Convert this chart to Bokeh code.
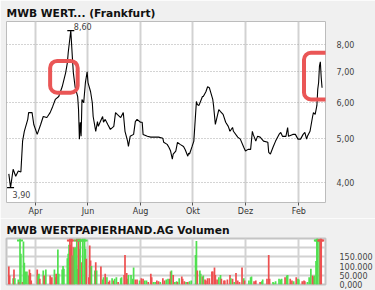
import numpy as np
import pandas as pd
from bokeh.plotting import figure
from bokeh.models import Range1d, FixedTicker, BoxAnnotation, ColumnDataSource, Label
from bokeh.layouts import column
from bokeh.embed import file_html
from bokeh.resources import INLINE

# --- closing prices (EUR) ---
price_dates = [
    "2006-03-01", "2006-03-03", "2006-03-06", "2006-03-09", "2006-03-12", "2006-03-15",
    "2006-03-17", "2006-03-19", "2006-03-23", "2006-03-24", "2006-03-28", "2006-03-30",
    "2006-04-03", "2006-04-07", "2006-04-10", "2006-04-14", "2006-04-15", "2006-04-18",
    "2006-04-21", "2006-04-24", "2006-04-28", "2006-05-02", "2006-05-06", "2006-05-08",
    "2006-05-09", "2006-05-12", "2006-05-14", "2006-05-15", "2006-05-17", "2006-05-20",
    "2006-05-21", "2006-05-22", "2006-05-23", "2006-05-24", "2006-05-25", "2006-05-27",
    "2006-05-29", "2006-05-31", "2006-06-01", "2006-06-04", "2006-06-06", "2006-06-07",
    "2006-06-10", "2006-06-12", "2006-06-13", "2006-06-15", "2006-06-18", "2006-06-19",
    "2006-06-21", "2006-06-24", "2006-06-27", "2006-07-01", "2006-07-03", "2006-07-05",
    "2006-07-09", "2006-07-12", "2006-07-14", "2006-07-17", "2006-07-18", "2006-07-20",
    "2006-07-24", "2006-07-26", "2006-07-28", "2006-08-01", "2006-08-03", "2006-08-04",
    "2006-08-09", "2006-08-13", "2006-08-16", "2006-08-22", "2006-08-27", "2006-08-28",
    "2006-09-01", "2006-09-03", "2006-09-05", "2006-09-07", "2006-09-08", "2006-09-11",
    "2006-09-13", "2006-09-16", "2006-09-20", "2006-09-22", "2006-09-25", "2006-09-26",
    "2006-09-27", "2006-09-30", "2006-10-02", "2006-10-04", "2006-10-05", "2006-10-06",
    "2006-10-08", "2006-10-12", "2006-10-13", "2006-10-16", "2006-10-18", "2006-10-20",
    "2006-10-24", "2006-10-25", "2006-10-27", "2006-10-31", "2006-11-02", "2006-11-05",
    "2006-11-08", "2006-11-11", "2006-11-13", "2006-11-16", "2006-11-17", "2006-11-22",
    "2006-11-25", "2006-11-29", "2006-12-01", "2006-12-04", "2006-12-07", "2006-12-09",
    "2006-12-10", "2006-12-13", "2006-12-15", "2006-12-18", "2006-12-22", "2006-12-27",
    "2006-12-28", "2006-12-30", "2007-01-02", "2007-01-05", "2007-01-09", "2007-01-11",
    "2007-01-13", "2007-01-17", "2007-01-19", "2007-01-20", "2007-01-25", "2007-01-28",
    "2007-01-31", "2007-02-03", "2007-02-06", "2007-02-08", "2007-02-10", "2007-02-11",
    "2007-02-14", "2007-02-17", "2007-02-18", "2007-02-20", "2007-02-22", "2007-02-23",
    "2007-02-24", "2007-02-25", "2007-02-26", "2007-02-27", "2007-02-28",
]
price_values = [
    4.18, 3.90, 4.28, 4.13, 4.24, 4.22,
    4.93, 5.18, 5.50, 5.69, 5.69, 5.36,
    5.10, 5.36, 5.58, 5.55, 5.58, 5.69,
    5.87, 6.08, 6.17, 6.48, 6.95, 7.31,
    7.69, 8.60, 7.42, 6.95, 6.48, 6.17,
    5.78, 4.98, 5.42, 5.05, 6.08, 5.98,
    6.62, 6.99, 6.62, 6.32, 5.98, 5.58,
    5.18, 5.44, 5.31, 5.42, 5.58, 5.42,
    5.50, 5.36, 5.23, 5.31, 5.69, 5.64,
    5.55, 5.69, 5.18, 4.93, 4.80, 5.05,
    5.10, 5.44, 5.50, 5.42, 5.42, 5.10,
    5.05, 5.03, 5.03, 5.03, 5.00, 4.90,
    4.85, 4.78, 4.69, 4.50, 4.62, 4.69,
    4.90, 4.85, 4.80, 4.72, 4.57, 4.64,
    4.62, 4.80, 4.93, 5.64, 6.02, 5.93,
    5.90, 6.17, 6.17, 6.32, 6.48, 6.45,
    6.08, 5.87, 5.36, 5.78, 5.72, 5.64,
    5.42, 5.31, 5.18, 5.28, 5.18, 5.03,
    4.98, 4.78, 4.69, 4.73, 4.73, 5.18,
    5.10, 4.93, 5.05, 5.03, 4.93, 4.90,
    4.66, 4.62, 4.78, 4.93, 5.10, 5.15,
    5.05, 5.05, 5.28, 5.05, 5.10, 5.10,
    4.98, 4.98, 5.10, 5.15, 4.98, 5.05,
    5.18, 5.58, 5.69, 5.64, 5.90, 6.40,
    6.62, 7.20, 7.35, 6.80, 6.45,
]

# --- traded volume (shares); 1 = up day, 0 = down day ---
vol_dates = [
    "2006-03-01", "2006-03-02", "2006-03-06", "2006-03-07", "2006-03-08", "2006-03-12",
    "2006-03-13", "2006-03-14", "2006-03-15", "2006-03-17", "2006-03-18", "2006-03-19",
    "2006-03-20", "2006-03-22", "2006-03-24", "2006-03-25", "2006-03-26", "2006-03-27",
    "2006-04-03", "2006-04-04", "2006-04-05", "2006-04-06", "2006-04-10", "2006-04-11",
    "2006-04-12", "2006-04-13", "2006-04-18", "2006-04-19", "2006-04-20", "2006-04-23",
    "2006-04-24", "2006-04-25", "2006-04-27", "2006-04-28", "2006-05-02", "2006-05-03",
    "2006-05-04", "2006-05-08", "2006-05-09", "2006-05-10", "2006-05-11", "2006-05-12",
    "2006-05-13", "2006-05-14", "2006-05-15", "2006-05-16", "2006-05-17", "2006-05-19",
    "2006-05-20", "2006-05-21", "2006-05-22", "2006-05-23", "2006-05-25", "2006-05-26",
    "2006-05-28", "2006-05-29", "2006-05-30", "2006-06-02", "2006-06-03", "2006-06-04",
    "2006-06-05", "2006-06-09", "2006-06-10", "2006-06-11", "2006-06-16", "2006-06-18",
    "2006-06-19", "2006-06-21", "2006-06-23", "2006-06-25", "2006-06-26", "2006-06-29",
    "2006-07-01", "2006-07-02", "2006-07-04", "2006-07-06", "2006-07-09", "2006-07-10",
    "2006-07-13", "2006-07-14", "2006-07-16", "2006-07-17", "2006-07-18", "2006-07-21",
    "2006-07-23", "2006-07-24", "2006-07-26", "2006-07-28", "2006-07-31", "2006-08-02",
    "2006-08-04", "2006-08-06", "2006-08-08", "2006-08-10", "2006-08-13", "2006-08-14",
    "2006-08-16", "2006-08-18", "2006-08-20", "2006-08-22", "2006-08-24", "2006-08-27",
    "2006-08-29", "2006-08-31", "2006-09-02", "2006-09-04", "2006-09-05", "2006-09-06",
    "2006-09-08", "2006-09-10", "2006-09-12", "2006-09-13", "2006-09-15", "2006-09-18",
    "2006-09-19", "2006-09-21", "2006-09-23", "2006-09-25", "2006-09-27", "2006-09-29",
    "2006-10-04", "2006-10-05", "2006-10-06", "2006-10-09", "2006-10-10", "2006-10-12",
    "2006-10-13", "2006-10-15", "2006-10-16", "2006-10-18", "2006-10-20", "2006-10-23",
    "2006-10-24", "2006-10-26", "2006-10-27", "2006-10-29", "2006-10-31", "2006-11-02",
    "2006-11-03", "2006-11-06", "2006-11-07", "2006-11-10", "2006-11-13", "2006-11-14",
    "2006-11-16", "2006-11-18", "2006-11-20", "2006-11-22", "2006-11-24", "2006-11-27",
    "2006-11-29", "2006-11-30", "2006-12-05", "2006-12-07", "2006-12-08", "2006-12-11",
    "2006-12-13", "2006-12-18", "2006-12-20", "2006-12-21", "2006-12-26", "2006-12-28",
    "2006-12-29", "2007-01-02", "2007-01-03", "2007-01-05", "2007-01-09", "2007-01-11",
    "2007-01-12", "2007-01-16", "2007-01-18", "2007-01-19", "2007-01-22", "2007-01-24",
    "2007-01-26", "2007-01-29", "2007-01-31", "2007-02-01", "2007-02-05", "2007-02-07",
    "2007-02-08", "2007-02-11", "2007-02-13", "2007-02-15", "2007-02-17", "2007-02-18",
    "2007-02-19", "2007-02-21", "2007-02-22", "2007-02-23", "2007-02-25", "2007-02-26",
    "2007-02-27",
]
vol_values = [
    98000, 49000, 34000, 82000, 34000, 27000,
    13000, 290000, 167000, 13000, 234000, 118000,
    71000, 71000, 49000, 82000, 63000, 22000,
    82000, 49000, 58000, 31000, 76000, 49000,
    34000, 82000, 49000, 31000, 40000, 82000,
    40000, 58000, 190000, 58000, 82000, 100000,
    85000, 143000, 167000, 216000, 310000, 216000,
    275000, 158000, 203000, 197000, 203000, 320000,
    85000, 265000, 194000, 300000, 121000, 280000,
    330000, 194000, 140000, 40000, 212000, 130000,
    100000, 76000, 121000, 76000, 98000, 27000,
    40000, 58000, 40000, 13000, 22000, 34000,
    22000, 31000, 40000, 13000, 34000, 40000,
    52000, 160000, 63000, 31000, 52000, 52000,
    31000, 92000, 27000, 27000, 22000, 34000,
    31000, 22000, 22000, 13000, 58000, 40000,
    13000, 13000, 22000, 18000, 13000, 34000,
    22000, 27000, 31000, 31000, 71000, 76000,
    52000, 13000, 18000, 13000, 34000, 44000,
    31000, 18000, 13000, 13000, 18000, 22000,
    160000, 236000, 76000, 76000, 58000, 44000,
    49000, 27000, 22000, 34000, 34000, 71000,
    71000, 92000, 52000, 27000, 40000, 52000,
    31000, 22000, 22000, 27000, 52000, 34000,
    31000, 13000, 63000, 22000, 13000, 92000,
    34000, 22000, 22000, 40000, 44000, 18000,
    22000, 13000, 18000, 27000, 31000, 160000,
    31000, 13000, 9000, 18000, 31000, 27000,
    31000, 40000, 49000, 52000, 31000, 22000,
    18000, 40000, 31000, 27000, 18000, 22000,
    18000, 13000, 40000, 85000, 49000, 44000,
    49000, 128000, 285000, 310000, 236000, 295000,
    270000,
]
vol_up = [
    0, 0, 1, 0, 1, 1,
    0, 1, 1, 0, 1, 1,
    1, 1, 1, 0, 0, 0,
    0, 1, 1, 0, 1, 0,
    0, 1, 0, 0, 0, 1,
    1, 0, 1, 1, 1, 1,
    1, 1, 1, 1, 0, 0,
    0, 1, 0, 1, 1, 1,
    1, 0, 0, 1, 0, 1,
    1, 1, 0, 0, 0, 0,
    1, 1, 0, 1, 0, 1,
    1, 0, 1, 0, 0, 1,
    0, 1, 1, 0, 1, 1,
    0, 0, 0, 0, 1, 1,
    1, 1, 0, 0, 1, 0,
    0, 1, 1, 0, 0, 0,
    1, 1, 0, 0, 1, 0,
    0, 1, 1, 0, 0, 1,
    0, 1, 1, 0, 1, 0,
    0, 0, 1, 0, 1, 1,
    1, 1, 0, 1, 1, 0,
    1, 0, 0, 0, 0, 0,
    0, 0, 0, 0, 1, 1,
    0, 0, 0, 0, 0, 1,
    0, 1, 0, 0, 0, 0,
    1, 0, 1, 1, 1, 0,
    0, 0, 1, 1, 0, 0,
    0, 1, 1, 1, 1, 1,
    1, 0, 1, 1, 0, 0,
    1, 0, 1, 1, 0, 0,
    0, 1, 1, 1, 0, 0,
    1, 1, 1, 1, 1, 0,
    0,
]

month_ticks = ["2006-04-01", "2006-06-01", "2006-08-01", "2006-10-01", "2006-12-01", "2007-02-01"]
month_labels = ["Apr", "Jun", "Aug", "Okt", "Dez", "Feb"]
price_ticks = [4, 5, 6, 7, 8]
price_tick_labels = ["4,00", "5,00", "6,00", "7,00", "8,00"]
vol_ticks = [0, 50000, 100000, 150000, 200000]
vol_tick_labels = ["0,000", "50.000", "100.000", "150.000", ""]

FONT = "DejaVu Sans"
BG = "#f0f0f0"
GRID = "#d2d2d2"
GREEN = "#50e050"
RED = "#ee5050"

def to_ms(d):
    return float(pd.Timestamp(d).value // 10**6)

tick_ms = [to_ms(d) for d in month_ticks]
x_range = Range1d(start=to_ms("2006-02-26 07:00"), end=to_ms("2007-03-04"))

# ---------------- price chart ----------------
price_src = ColumnDataSource(dict(date=pd.to_datetime(price_dates), price=price_values))

p = figure(width=375, height=218, x_axis_type="datetime", y_axis_type="log",
           x_range=x_range, y_range=Range1d(3.62, 9.0), y_axis_location="right",
           output_backend="svg", toolbar_location=None,
           min_border_left=6, min_border_right=50, min_border_top=21, min_border_bottom=14,
           background_fill_color="white", border_fill_color=BG,
           outline_line_color="#bcbcbc", outline_line_width=1)
p.title.text = "MWB WERT... (Frankfurt)"
p.title.text_font = FONT
p.title.text_font_size = "10.7px"
p.title.text_font_style = "bold"
p.title.text_color = "#111111"
p.title.standoff = 4
p.title.offset = 0

p.xaxis.ticker = FixedTicker(ticks=tick_ms)
p.xaxis.major_label_overrides = {t: l for t, l in zip(tick_ms, month_labels)}
p.xaxis.axis_line_color = None
p.xaxis.major_tick_in = 0
p.xaxis.major_tick_out = 3
p.xaxis.major_tick_line_color = "#555555"
p.xaxis.minor_tick_line_color = None
p.xaxis.major_label_standoff = 1
p.xaxis.major_label_text_font = FONT
p.xaxis.major_label_text_font_size = "8px"
p.xaxis.major_label_text_color = "#333333"

p.yaxis.ticker = FixedTicker(ticks=price_ticks)
p.yaxis.major_label_overrides = {t: l for t, l in zip(price_ticks, price_tick_labels)}
p.yaxis.axis_line_color = None
p.yaxis.major_tick_line_color = None
p.yaxis.minor_tick_line_color = None
p.yaxis.major_label_standoff = 5
p.yaxis.major_label_text_font = FONT
p.yaxis.major_label_text_font_size = "8px"
p.yaxis.major_label_text_color = "#444444"

p.xgrid.ticker = FixedTicker(ticks=tick_ms)
p.xgrid.grid_line_color = GRID
p.xgrid.grid_line_width = 2
p.ygrid.grid_line_color = "#a8a8a8"
p.ygrid.grid_line_dash = "1 2"
p.ygrid.grid_line_width = 1

p.line("date", "price", source=price_src, line_color="black", line_width=1.1)

# high / low markers with their values
prices = np.array(price_values)
dates = pd.to_datetime(price_dates)
i_hi, i_lo = int(prices.argmax()), int(prices.argmin())
ext_src = ColumnDataSource(dict(date=[dates[i_hi], dates[i_lo]], price=[prices[i_hi], prices[i_lo]]))
p.scatter("date", "price", source=ext_src, marker="dash", size=7, line_color="black", line_width=1.2)
fmt = lambda v: f"{v:.2f}".replace(".", ",")
p.add_layout(Label(x=dates[i_hi], y=prices[i_hi], text=fmt(prices[i_hi]), x_offset=3, y_offset=1,
                   text_font=FONT, text_font_size="8px", text_color="#444444", text_baseline="bottom"))
p.add_layout(Label(x=dates[i_lo], y=prices[i_lo], text=fmt(prices[i_lo]), x_offset=2, y_offset=-3,
                   text_font=FONT, text_font_size="8px", text_color="#444444", text_baseline="top"))

# hand-drawn style highlight boxes
for left, right, bottom, top in [("2006-04-18", "2006-05-20", 6.29, 7.38),
                                 ("2007-02-07", "2007-03-17", 6.08, 7.69)]:
    p.add_layout(BoxAnnotation(left=to_ms(left), right=to_ms(right), bottom=bottom, top=top,
                               fill_alpha=0, line_color="#ea5656", line_alpha=1.0,
                               line_width=4, border_radius=7))

# ---------------- volume chart ----------------
vol_src = ColumnDataSource(dict(date=pd.to_datetime(vol_dates), vol=vol_values,
                                col=[GREEN if u else RED for u in vol_up]))
VMAX = 250000
v = figure(width=375, height=72, x_axis_type="datetime", x_range=x_range,
           y_range=Range1d(0, VMAX), y_axis_location="right",
           output_backend="svg", toolbar_location=None,
           min_border_left=6, min_border_right=50, min_border_top=20, min_border_bottom=6,
           background_fill_color="white", border_fill_color=BG,
           outline_line_color="#c4c4c4", outline_line_width=2)
v.title.text = "MWB WERTPAPIERHAND.AG Volumen"
v.title.text_font = FONT
v.title.text_font_size = "10.7px"
v.title.text_font_style = "bold"
v.title.text_color = "#111111"
v.title.standoff = 4
v.title.offset = 0

v.xaxis.visible = False
v.xgrid.ticker = FixedTicker(ticks=tick_ms)
v.xgrid.grid_line_color = GRID
v.xgrid.grid_line_width = 2

v.yaxis.ticker = FixedTicker(ticks=vol_ticks)
v.yaxis.major_label_overrides = {t: l for t, l in zip(vol_ticks, vol_tick_labels)}
v.yaxis.axis_line_color = None
v.yaxis.major_tick_line_color = None
v.yaxis.minor_tick_line_color = None
v.yaxis.major_label_standoff = 8
v.yaxis.major_label_text_font = FONT
v.yaxis.major_label_text_font_size = "8px"
v.yaxis.major_label_text_color = "#444444"
v.ygrid.grid_line_color = GRID
v.ygrid.grid_line_width = 2

v.vbar(x="date", top="vol", width=86400000 * 2.0, source=vol_src, fill_color="col", line_color=None)

# arrows for bars running past the top of the scale
over = [i for i, val in enumerate(vol_values) if val > VMAX]
over_src = ColumnDataSource(dict(date=pd.to_datetime([vol_dates[i] for i in over]),
                                 y=[VMAX * 0.955] * len(over),
                                 col=[GREEN if vol_up[i] else RED for i in over]))
v.scatter("date", "y", source=over_src, marker="dash", size=6, line_color="col", line_width=2)

layout = column(p, v)
open("out.html", "w").write(file_html(layout, INLINE))
